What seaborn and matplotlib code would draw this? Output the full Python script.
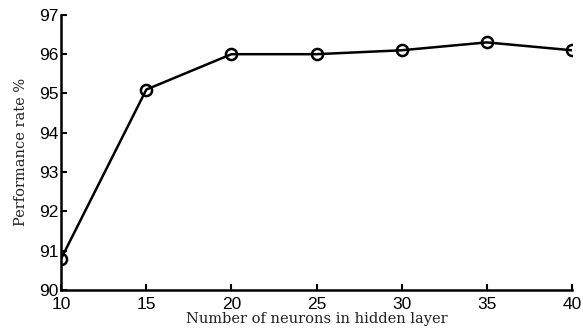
import matplotlib
matplotlib.use("Agg")
import matplotlib.pyplot as plt
import seaborn as sns
import pandas as pd

neurons = [10, 15, 20, 25, 30, 35, 40]
performance = [90.8, 95.1, 96.0, 96.0, 96.1, 96.3, 96.1]
x_ticks = [10, 15, 20, 25, 30, 35, 40]
y_ticks = [90, 91, 92, 93, 94, 95, 96, 97]

sns.set_style("ticks")
df = pd.DataFrame({"n": neurons, "p": performance})

fig = plt.figure(figsize=(5.83, 3.31), dpi=100)
ax = fig.add_axes([0.105, 0.124, 0.876, 0.831])
sns.lineplot(data=df, x="n", y="p", ax=ax, color="black", linewidth=1.8,
             marker="o", markersize=8, markerfacecolor="none",
             markeredgecolor="black", markeredgewidth=1.8)
ax.set_xlim(10, 40)
ax.set_ylim(90, 97)
ax.set_xticks(x_ticks)
ax.set_yticks(y_ticks)
ax.tick_params(direction="in", length=4, width=1.5, labelsize=12.5,
               color="black", labelcolor="black")
ax.tick_params(axis="x", pad=5)
ax.tick_params(axis="y", pad=2)
for lab in ax.get_xticklabels() + ax.get_yticklabels():
    lab.set_family("Liberation Sans")
for s in ["top", "right"]:
    ax.spines[s].set_visible(False)
for s in ["left", "bottom"]:
    ax.spines[s].set_linewidth(1.8)
    ax.spines[s].set_color("black")
ax.set_xlabel("Number of neurons in hidden layer", family="DejaVu Serif",
              fontsize=10.5, labelpad=0, color="#222222")
ax.set_ylabel("Performance rate %", family="DejaVu Serif", fontsize=10.5,
              labelpad=8, color="#222222")
fig.savefig("out.png", dpi=100)
